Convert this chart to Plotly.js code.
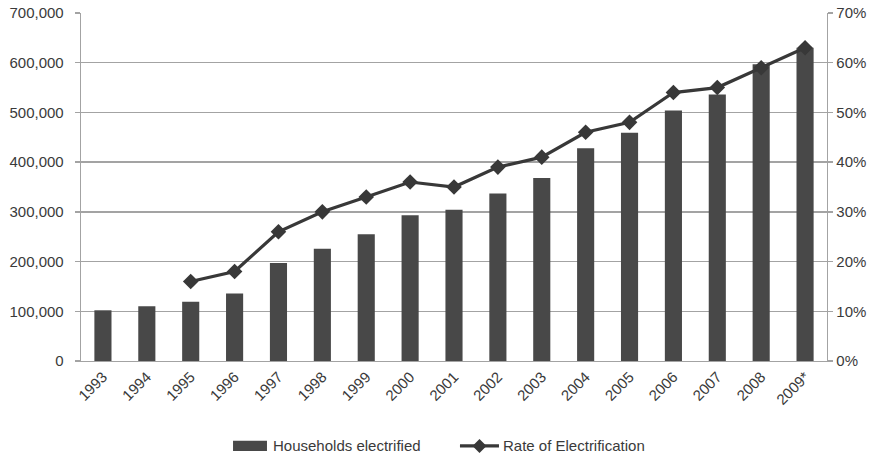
<!DOCTYPE html>
<html>
<head>
<meta charset="utf-8">
<script src="https://cdn.plot.ly/plotly-3.0.1.min.js"></script>
<style>
  html, body { margin: 0; padding: 0; background: #fff; }
  #chart { width: 881px; height: 458px; }
</style>
</head>
<body>
<div id="chart"></div>
<script>
// Years (2009 is provisional)
const years = ['1993', '1994', '1995', '1996', '1997', '1998', '1999', '2000', '2001',
               '2002', '2003', '2004', '2005', '2006', '2007', '2008', '2009*'];

// Cumulative number of households connected to the grid
const householdsElectrified = [102000, 110000, 119000, 136000, 197000, 226000, 255000, 293000, 304000,
                               337000, 368000, 428000, 459000, 504000, 536000, 597000, 630000];

// Share of households with electricity (no figure for 1993-1994)
const electrificationRate = [null, null, 0.16, 0.18, 0.26, 0.30, 0.33, 0.36, 0.35,
                             0.39, 0.41, 0.46, 0.48, 0.54, 0.55, 0.59, 0.63];

const leftTicks = [0, 100000, 200000, 300000, 400000, 500000, 600000, 700000];
const leftTickText = ['0', '100,000', '200,000', '300,000', '400,000', '500,000', '600,000', '700,000'];

const barName = 'Households electrified';
const lineName = 'Rate of Electrification';

const font = 'Liberation Sans, Arial, sans-serif';
const textColor = '#3a3a3a';
const gridColor = '#a3a3a3';
const barColor = '#484848';
const lineColor = '#383838';

const traces = [
  {
    type: 'bar',
    name: barName,
    x: years,
    y: householdsElectrified,
    width: 0.39,
    marker: { color: barColor, line: { width: 0 } },
    yaxis: 'y'
  },
  {
    type: 'scatter',
    mode: 'lines+markers',
    name: lineName,
    x: years,
    y: electrificationRate,
    yaxis: 'y2',
    line: { color: lineColor, width: 3.2 },
    marker: { symbol: 'diamond', size: 12, color: lineColor },
    connectgaps: false
  }
];

// Legend below the plot, drawn in paper coordinates:
// a wide swatch for the bars and a line-with-diamond sample for the rate.
const legendY = -0.244;
const diamondX = 0.5342, dx = 0.0094, dy = 0.0201;
const legendShapes = [
  { type: 'rect', xref: 'paper', yref: 'paper',
    x0: 0.2038, x1: 0.2493, y0: legendY - 0.0145, y1: legendY + 0.0145,
    fillcolor: barColor, line: { width: 0 } },
  { type: 'line', xref: 'paper', yref: 'paper',
    x0: 0.508, x1: 0.5603, y0: legendY, y1: legendY,
    line: { color: lineColor, width: 3.2 } },
  { type: 'path', xref: 'paper', yref: 'paper',
    path: `M ${diamondX - dx} ${legendY} L ${diamondX} ${legendY + dy} L ${diamondX + dx} ${legendY} L ${diamondX} ${legendY - dy} Z`,
    fillcolor: lineColor, line: { width: 0 } }
];
const legendLabels = [
  { xref: 'paper', yref: 'paper', x: 0.2547, y: legendY, xanchor: 'left', yanchor: 'middle',
    text: barName, showarrow: false, font: { family: font, size: 15, color: textColor } },
  { xref: 'paper', yref: 'paper', x: 0.5630, y: legendY, xanchor: 'left', yanchor: 'middle',
    text: lineName, showarrow: false, font: { family: font, size: 15, color: textColor } }
];

const layout = {
  width: 881,
  height: 458,
  margin: { l: 81, r: 54, t: 13, b: 97 },
  paper_bgcolor: '#ffffff',
  plot_bgcolor: '#ffffff',
  font: { family: font, size: 15, color: textColor },
  showlegend: false,
  shapes: legendShapes,
  annotations: legendLabels,
  xaxis: {
    type: 'category',
    range: [-0.5, years.length - 0.5],
    automargin: false,
    tickangle: -45,
    showgrid: false,
    showline: true,
    linecolor: gridColor,
    linewidth: 1.3,
    ticks: '',
    tickfont: { family: font, size: 15, color: textColor },
    zeroline: false
  },
  yaxis: {
    automargin: false,
    range: [0, 700000],
    tickvals: leftTicks,
    ticktext: leftTickText,
    showgrid: true,
    gridcolor: gridColor,
    gridwidth: 1.3,
    showline: true,
    linecolor: gridColor,
    linewidth: 1.3,
    ticks: 'outside',
    ticklen: 5,
    tickwidth: 1.3,
    tickcolor: gridColor,
    ticklabelstandoff: 8,
    zeroline: false,
    tickfont: { family: font, size: 15, color: textColor }
  },
  yaxis2: {
    automargin: false,
    overlaying: 'y',
    side: 'right',
    range: [0, 0.7],
    dtick: 0.1,
    tickformat: '.0%',
    showgrid: false,
    showline: true,
    linecolor: gridColor,
    linewidth: 1.3,
    ticks: 'outside',
    ticklen: 5,
    tickwidth: 1.3,
    tickcolor: gridColor,
    zeroline: false,
    tickfont: { family: font, size: 15, color: textColor }
  }
};

Plotly.newPlot('chart', traces, layout, { displayModeBar: false, staticPlot: true });
</script>
</body>
</html>
